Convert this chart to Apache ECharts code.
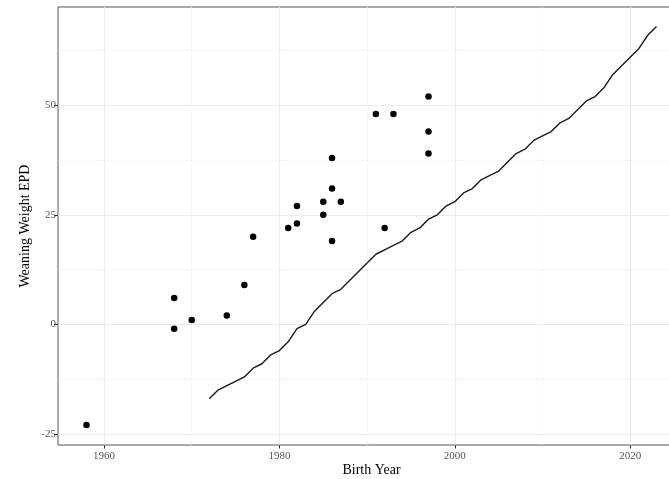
<!DOCTYPE html>
<html><head><meta charset="utf-8">
<script src="https://cdn.jsdelivr.net/npm/echarts@6/dist/echarts.min.js"></script>
<style>html,body{margin:0;padding:0;background:#fff;overflow:hidden}#c{width:686px;height:479px}</style>
</head><body><div id="c"></div>
<script>
// Individual animals (points)
const pointYears = [1958, 1968, 1968, 1970, 1974, 1976, 1977, 1981, 1982, 1982, 1985, 1985, 1986, 1986, 1986, 1987, 1991, 1992, 1993, 1997, 1997, 1997];
const pointEPD   = [-23, 6, -1, 1, 2, 9, 20, 22, 27, 23, 28, 25, 38, 31, 19, 28, 48, 22, 48, 52, 44, 39];

// Breed average trend (line)
const lineYears = [1972, 1973, 1974, 1975, 1976, 1977, 1978, 1979, 1980, 1981, 1982, 1983, 1984, 1985, 1986, 1987, 1988, 1989, 1990, 1991, 1992, 1993, 1994, 1995, 1996, 1997, 1998, 1999, 2000, 2001, 2002, 2003, 2004, 2005, 2006, 2007, 2008, 2009, 2010, 2011, 2012, 2013, 2014, 2015, 2016, 2017, 2018, 2019, 2020, 2021, 2022, 2023];
const lineEPD   = [-17, -15, -14, -13, -12, -10, -9, -7, -6, -4, -1, 0, 3, 5, 7, 8, 10, 12, 14, 16, 17, 18, 19, 21, 22, 24, 25, 27, 28, 30, 31, 33, 34, 35, 37, 39, 40, 42, 43, 44, 46, 47, 49, 51, 52, 54, 57, 59, 61, 63, 66, 68];

// Axis ticks
const xTicks = [1960, 1980, 2000, 2020];
const xMinor = [1970, 1990, 2010];
const yTicks = [-25, 0, 25, 50];
const yMinor = [-12.5, 12.5, 37.5, 62.5];

const xMin = 1954.75, xMax = 2026.25;
const yMin = -27.55, yMax = 72.45;

const serif = 'Liberation Serif';
const chart = echarts.init(document.getElementById('c'), null, {renderer: 'canvas'});
const plain = v => String(v);

function majorX() {
  return {
    type: 'value', min: xMin, max: xMax, position: 'bottom',
    axisLine: {show: false, onZero: false},
    axisTick: {show: true, customValues: xTicks, length: 3.5, lineStyle: {color: '#333', width: 1}},
    axisLabel: {show: true, customValues: xTicks, formatter: plain, fontFamily: serif, fontSize: 11, color: '#555', margin: 6},
    splitLine: {show: true, lineStyle: {color: '#ebebeb', width: 1.2}},
    name: 'Birth Year', nameLocation: 'middle', nameGap: 18, nameMoveOverlap: false,
    nameTextStyle: {fontFamily: serif, fontSize: 14, color: '#000'}
  };
}
function minorX() {
  return {
    type: 'value', min: xMin, max: xMax, position: 'bottom',
    axisLine: {show: false, onZero: false},
    axisTick: {show: false, customValues: xMinor},
    axisLabel: {show: false, customValues: xMinor},
    splitLine: {show: true, lineStyle: {color: '#f3f3f3', width: 0.7}}
  };
}
function majorY() {
  return {
    type: 'value', min: yMin, max: yMax, position: 'left',
    axisLine: {show: false, onZero: false},
    axisTick: {show: true, customValues: yTicks, length: 4, lineStyle: {color: '#333', width: 1}},
    axisLabel: {show: true, customValues: yTicks, formatter: plain, fontFamily: serif, fontSize: 11, color: '#555', margin: 2},
    splitLine: {show: true, lineStyle: {color: '#ebebeb', width: 1.2}},
    name: 'Weaning Weight EPD', nameLocation: 'middle', nameGap: 26, nameMoveOverlap: false,
    nameTextStyle: {fontFamily: serif, fontSize: 14, color: '#000'}
  };
}
function minorY() {
  return {
    type: 'value', min: yMin, max: yMax, position: 'left',
    axisLine: {show: false, onZero: false},
    axisTick: {show: false, customValues: yMinor},
    axisLabel: {show: false, customValues: yMinor},
    splitLine: {show: true, lineStyle: {color: '#f3f3f3', width: 0.7}}
  };
}

const scatterData = pointYears.map((y, i) => [y, pointEPD[i]]);
const lineData = lineYears.map((y, i) => [y, lineEPD[i]]);

chart.setOption({
  animation: false,
  backgroundColor: '#fff',
  grid: {left: 58, top: 7, right: 1, bottom: 34, outerBoundsMode: 'none', containLabel: false,
         show: true, borderColor: '#555', borderWidth: 1, backgroundColor: '#fff'},
  xAxis: [minorX(), majorX()],
  yAxis: [minorY(), majorY()],
  series: [
    {type: 'line', data: lineData, xAxisIndex: 1, yAxisIndex: 1, showSymbol: false, symbol: 'none',
     lineStyle: {color: '#1a1a1a', width: 1.4}, z: 3},
    {type: 'scatter', data: scatterData, xAxisIndex: 1, yAxisIndex: 1, symbol: 'circle', symbolSize: 6.5,
     itemStyle: {color: '#000', opacity: 1}, z: 4}
  ]
});
</script>
</body></html>
